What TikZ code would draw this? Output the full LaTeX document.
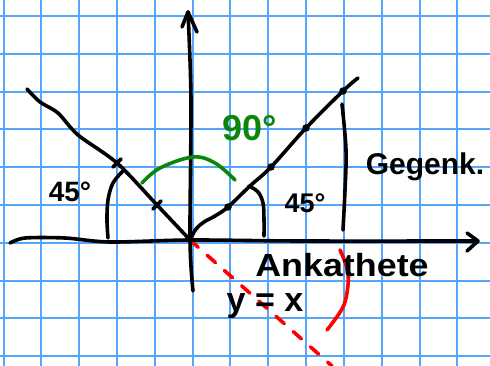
\documentclass[tikz,border=0pt]{standalone}
\usepackage{fontspec}
\setmainfont{Liberation Sans}
\definecolor{gridblue}{RGB}{85,165,250}
\definecolor{penred}{RGB}{255,0,0}
\definecolor{pengreen}{RGB}{10,135,10}
\begin{document}
\begin{tikzpicture}[x=1pt,y=-1pt,
  pen/.style={line width=3.6pt,line cap=round,line join=round},
  blackpen/.style={pen,black},
  greenpen/.style={pen,pengreen},
  redpen/.style={pen,penred},
  reddash/.style={pen,penred,dash pattern=on 11pt off 12pt},
  gridline/.style={line width=2pt,gridblue},
  hand/.style={inner sep=0pt,text=black},
  dotmark/.style={circle,fill=black,inner sep=0pt,minimum size=7.5pt}]
\useasboundingbox (0,0) rectangle (490,366);
\fill[white] (0,0) rectangle (490,366);
% grid
\foreach \k in {0,...,12}{\draw[gridline] ({3.5+37.82*\k},0) -- ({3.5+37.82*\k},366);}
\foreach \k in {0,...,9}{\draw[gridline] (0,{16+37.8*\k}) -- (490,{16+37.8*\k});}
% key points
\coordinate (O) at (190,240);
\coordinate (xtip) at (478,241);
\coordinate (ytip) at (188,12);
\coordinate (redend) at (332,366);
% red dashed line y = x
\draw[reddash] (O) -- (redend);
% x axis
\draw[blackpen] plot[smooth,tension=0.5] coordinates {(10,243) (25,238) (65,238) (110,242) (190,240) (300,241) (476,241)};
\draw[blackpen] (467,233) -- (xtip) -- (467,251);
% y axis
\draw[blackpen] plot[smooth,tension=0.5] coordinates {(ytip) (191,100) (190,240) (193,291)};
\draw[blackpen] (182,27) -- (ytip) -- (197,32);
% left line
\draw[blackpen] plot[smooth,tension=0.5] coordinates {(27,89) (40,102) (58,113) (78,135) (117,163) (157,205) (O)};
\draw[blackpen] (113,167) -- (121,159);
\draw[blackpen] (153,209) -- (161,201);
% right line
\draw[blackpen] plot[smooth,tension=0.6] coordinates {(O) (196,229) (204,222) (215,216) (228,207) (250,186) (271,167) (306,128) (343,91) (358,78)};
\node[dotmark] (d1) at (228,207) {};
\node[dotmark] (d2) at (271,167) {};
\node[dotmark] (d3) at (306,128) {};
\node[dotmark] (d4) at (343,91) {};
% opposite side
\draw[blackpen] plot[smooth,tension=0.6] coordinates {(342,104) (346,150) (345,190) (343,230)};
% 45 degree arcs
\draw[blackpen] plot[smooth,tension=0.6] coordinates {(123,171) (113,183) (108,200) (107,220) (108,238)};
\draw[blackpen] plot[smooth,tension=0.6] coordinates {(249,186) (258,192) (263,203) (264,220) (264,236)};
% green right angle arc
\draw[greenpen] plot[smooth,tension=0.6] coordinates {(142,183) (160,168) (193,157) (215,163) (235,180)};
% red arc
\draw[redpen] plot[smooth,tension=0.6] coordinates {(340,250) (347,268) (348,285) (343,307) (327,330)};
% labels
\node[hand,font=\bfseries\fontsize{28}{28}\selectfont] (l45a) at (70,192) {45°};
\node[hand,font=\bfseries\fontsize{27}{27}\selectfont] (l45b) at (305,203) {45°};
\node[hand,text=pengreen,font=\bfseries\fontsize{36}{36}\selectfont] (l90) at (250,128) {90°};
\node[hand,font=\bfseries\fontsize{30}{30}\selectfont] (lgeg) at (425,167) {Gegenk.};
\node[hand,font=\bfseries\fontsize{32}{32}\selectfont] (lank) at (342,265) {\scalebox{1.12}[1]{Ankathete}};
\node[hand,font=\bfseries\fontsize{34}{34}\selectfont] (lyx) at (265,306) {y = x};
\end{tikzpicture}
\end{document}
